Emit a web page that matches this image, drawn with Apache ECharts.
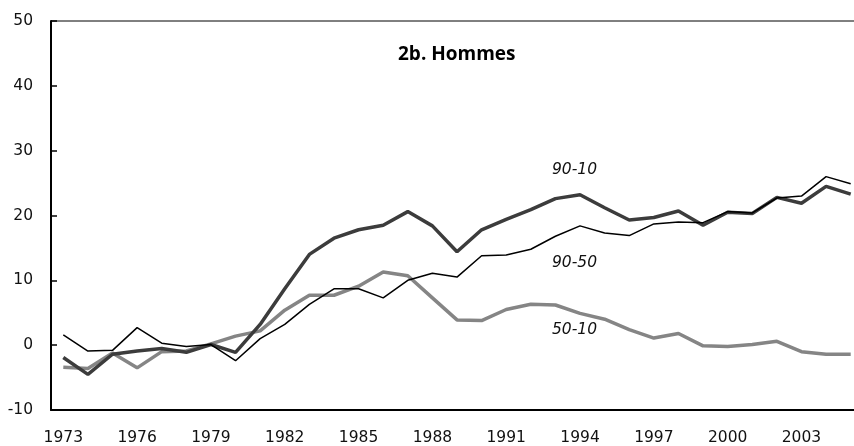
<!DOCTYPE html>
<html>
<head>
<meta charset="utf-8">
<script src="https://cdn.jsdelivr.net/npm/echarts@6/dist/echarts.min.js"></script>
<style>
  html, body { margin: 0; padding: 0; background: #fff; }
  #chart { width: 854px; height: 446px; }
</style>
</head>
<body>
<div id="chart"></div>
<script>
// années 1973 - 2005
var years = [];
for (var y = 1973; y <= 2005; y++) years.push(String(y));

var s9010 = [-1.9, -4.5, -1.4, -0.9, -0.5, -1.1, 0.1, -1.1, 3.2, 8.7, 14.0, 16.5, 17.8, 18.5, 20.6, 18.4, 14.4,
             17.8, 19.4, 20.9, 22.6, 23.2, 21.2, 19.3, 19.7, 20.7, 18.5, 20.5, 20.3, 22.8, 21.9, 24.5, 23.3];
var s9050 = [1.6, -0.9, -0.8, 2.7, 0.3, -0.2, 0.1, -2.4, 1.0, 3.2, 6.3, 8.7, 8.7, 7.3, 10.0, 11.1, 10.5,
             13.8, 13.9, 14.8, 16.8, 18.4, 17.3, 16.9, 18.7, 19.0, 18.9, 20.6, 20.4, 22.7, 23.0, 26.0, 24.9];
var s5010 = [-3.4, -3.6, -1.2, -3.5, -1.0, -0.9, 0.2, 1.4, 2.2, 5.4, 7.7, 7.7, 9.1, 11.3, 10.7, 7.3, 3.9,
             3.8, 5.5, 6.3, 6.2, 4.9, 4.0, 2.4, 1.1, 1.8, -0.1, -0.2, 0.1, 0.6, -1.0, -1.4, -1.4];

var font = '"DejaVu Sans", sans-serif';

var myChart = echarts.init(document.getElementById('chart'));
var option = {
    backgroundColor: '#fff',
    animation: false,
    grid: {
        left: 51, top: 21, bottom: 36, right: -9,
        containLabel: false,
        outerBoundsMode: 'none',
        show: true,
        borderColor: '#000',
        borderWidth: 1,
        backgroundColor: 'transparent'
    },
    xAxis: {
        type: 'category',
        data: years,
        boundaryGap: true,
        axisLine: { onZero: false, lineStyle: { color: '#000', width: 2 } },
        axisTick: { inside: true, length: 5, interval: 0, lineStyle: { color: '#000', width: 1.5 } },
        axisLabel: { interval: 2, margin: 20, color: '#111', fontSize: 15.5, fontFamily: font },
        splitLine: { show: false }
    },
    yAxis: {
        type: 'value',
        min: -10, max: 50, interval: 10,
        axisLine: { show: true, onZero: false, lineStyle: { color: '#000', width: 2 } },
        axisTick: { show: true, inside: true, length: 6, lineStyle: { color: '#000', width: 1.5 } },
        axisLabel: { margin: 18, color: '#111', fontSize: 15.5, fontFamily: font },
        splitLine: { show: false }
    },
    title: {
        text: '2b. Hommes',
        left: 393, top: 40,
        textStyle: { fontSize: 19, fontWeight: 'bold', color: '#000', fontFamily: '"Open Sans", sans-serif' }
    },
    series: [
        { name: '50-10', type: 'line', data: s5010, symbol: 'none',
          lineStyle: { color: '#858585', width: 3.5 }, z: 2 },
        { name: '90-10', type: 'line', data: s9010, symbol: 'none',
          lineStyle: { color: '#3c3c3c', width: 3.5 }, z: 3 },
        { name: '90-50', type: 'line', data: s9050, symbol: 'none',
          lineStyle: { color: '#000', width: 1.5 }, z: 4 }
    ],
    graphic: [
        { type: 'text', left: 552, top: 162, style: { text: '90-10', fontSize: 15.5, fontStyle: 'italic', fontFamily: font, fill: '#111' } },
        { type: 'text', left: 552, top: 255, style: { text: '90-50', fontSize: 15.5, fontStyle: 'italic', fontFamily: font, fill: '#111' } },
        { type: 'text', left: 552, top: 322, style: { text: '50-10', fontSize: 15.5, fontStyle: 'italic', fontFamily: font, fill: '#111' } }
    ]
};
myChart.setOption(option, true);
</script>
</body>
</html>
